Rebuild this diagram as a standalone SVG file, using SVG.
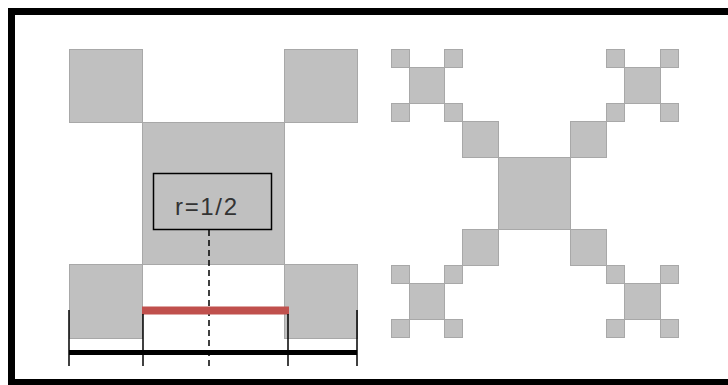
<svg xmlns="http://www.w3.org/2000/svg" width="728" height="385" viewBox="0 0 728 385">
<style>
.sq{fill:#c0c0c0;stroke:#a8a8a8;stroke-width:1}
.tick{stroke:#000;stroke-width:1.5}
.lbl{font-family:"Liberation Sans",Arial,sans-serif;font-size:24px;fill:#333}
</style>
<rect x="0" y="0" width="728" height="385" fill="#fff"/>
<rect x="11.5" y="11.5" width="740" height="371" fill="none" stroke="#000" stroke-width="7"/>
<g id="left-figure">
<rect class="sq" x="69.5" y="49.5" width="73" height="73"/>
<rect class="sq" x="284.5" y="49.5" width="73" height="73"/>
<rect class="sq" x="142.5" y="122.5" width="142" height="142"/>
<rect class="sq" x="69.5" y="264.5" width="73" height="74"/>
<rect class="sq" x="284.5" y="264.5" width="73" height="74"/>
</g>
<g id="label">
<rect x="153.5" y="173.5" width="118" height="56" fill="#c0c0c0" stroke="#000" stroke-width="1.5"/>
<text class="lbl" x="175" y="215" textLength="62" lengthAdjust="spacing">r=1/2</text>
</g>
<g id="connectors">
<line x1="209" y1="230" x2="209" y2="366" stroke="#000" stroke-width="1.5" stroke-dasharray="6,4"/>
<line x1="142" y1="310.5" x2="289" y2="310.5" stroke="#c0504d" stroke-width="8"/>
<line x1="69" y1="352.5" x2="357" y2="352.5" stroke="#000" stroke-width="5"/>
<line class="tick" x1="69" y1="310" x2="69" y2="366"/>
<line class="tick" x1="143" y1="314" x2="143" y2="366"/>
<line class="tick" x1="288" y1="314" x2="288" y2="366"/>
<line class="tick" x1="357" y1="310" x2="357" y2="366"/>
</g>
<g id="right-figure">
<rect class="sq" x="498.5" y="157.5" width="72" height="72"/>
<rect class="sq" x="462.5" y="121.5" width="36" height="36"/>
<rect class="sq" x="570.5" y="121.5" width="36" height="36"/>
<rect class="sq" x="462.5" y="229.5" width="36" height="36"/>
<rect class="sq" x="570.5" y="229.5" width="36" height="36"/>
<rect class="sq" x="409.5" y="67.5" width="35" height="36"/>
<rect class="sq" x="391.5" y="49.5" width="18" height="18"/>
<rect class="sq" x="444.5" y="49.5" width="18" height="18"/>
<rect class="sq" x="391.5" y="103.5" width="18" height="18"/>
<rect class="sq" x="444.5" y="103.5" width="18" height="18"/>
<rect class="sq" x="624.5" y="67.5" width="36" height="36"/>
<rect class="sq" x="606.5" y="49.5" width="18" height="18"/>
<rect class="sq" x="660.5" y="49.5" width="18" height="18"/>
<rect class="sq" x="606.5" y="103.5" width="18" height="18"/>
<rect class="sq" x="660.5" y="103.5" width="18" height="18"/>
<rect class="sq" x="409.5" y="283.5" width="35" height="36"/>
<rect class="sq" x="391.5" y="265.5" width="18" height="18"/>
<rect class="sq" x="444.5" y="265.5" width="18" height="18"/>
<rect class="sq" x="391.5" y="319.5" width="18" height="18"/>
<rect class="sq" x="444.5" y="319.5" width="18" height="18"/>
<rect class="sq" x="624.5" y="283.5" width="36" height="36"/>
<rect class="sq" x="606.5" y="265.5" width="18" height="18"/>
<rect class="sq" x="660.5" y="265.5" width="18" height="18"/>
<rect class="sq" x="606.5" y="319.5" width="18" height="18"/>
<rect class="sq" x="660.5" y="319.5" width="18" height="18"/>
</g>
</svg>
